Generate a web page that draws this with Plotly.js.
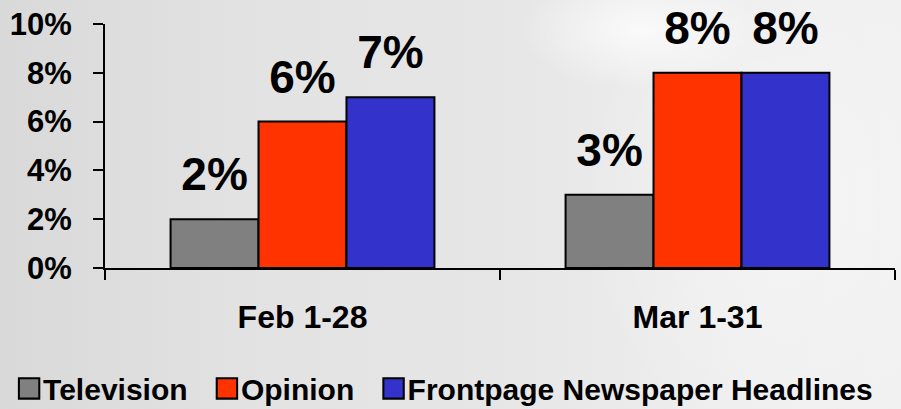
<!DOCTYPE html>
<html>
<head>
<meta charset="utf-8">
<script src="https://cdn.plot.ly/plotly-3.0.1.min.js"></script>
<style>
html,body{margin:0;padding:0;}
body{width:901px;height:409px;overflow:hidden;
background:
 radial-gradient(ellipse 120px 60px at 640px 30px, rgba(255,255,255,0.75), rgba(255,255,255,0) 100%),
 radial-gradient(ellipse 200px 260px at 780px 200px, rgba(255,255,255,0.35), rgba(255,255,255,0) 100%),
 linear-gradient(90deg,#d9d9d9 0%,#e3e3e3 30%,#e6e6e6 55%,#eeeeee 80%,#f1f1f1 100%);}
#chart{width:901px;height:409px;}
</style>
</head>
<body>
<div id="chart"></div>
<script>
const categories = ["Feb 1-28", "Mar 1-31"];
const seriesNames = ["Television", "Opinion", "Frontpage Newspaper Headlines"];
const television = [2, 3];
const opinion = [6, 8];
const frontpage = [7, 8];
const yTickVals = [0, 2, 4, 6, 8, 10];
const yTickText = ["0%", "2%", "4%", "6%", "8%", "10%"];

const colors = ["#808080", "#FF3300", "#3333CC"];
const FONT = "Liberation Sans, Arial, sans-serif";

const values = [television, opinion, frontpage];
const traces = values.map((v, i) => ({
  type: "bar",
  name: seriesNames[i] + (i < seriesNames.length - 1 ? "\u00A0" : ""),
  x: categories,
  y: v,
  marker: {color: colors[i], line: {color: "#000", width: 2}},
  text: v.map(n => n + "%"),
  texttemplate: "%{text}",
  textposition: "outside",
  cliponaxis: false,
  textfont: {family: FONT, size: 46, color: "#000", weight: "bold"},
  hoverinfo: "skip"
}));

const layout = {
  width: 901, height: 409,
  paper_bgcolor: "rgba(0,0,0,0)",
  plot_bgcolor: "rgba(0,0,0,0)",
  margin: {l: 105, r: 6, t: 24, b: 141, autoexpand: false},
  barmode: "group",
  bargap: 0.332,
  bargroupgap: 0,
  font: {family: FONT, color: "#000", size: 30, weight: "bold"},
  xaxis: {
    type: "category",
    showline: true, linecolor: "#000", linewidth: 2,
    ticks: "outside", ticklen: 10, tickwidth: 2, tickcolor: "#000",
    tickson: "boundaries",
    ticklabelstandoff: 20,
    tickfont: {family: FONT, size: 32, color: "#000", weight: "bold"},
    showgrid: false, zeroline: false, fixedrange: true
  },
  yaxis: {
    range: [0, 10],
    tickvals: yTickVals, ticktext: yTickText,
    showline: true, linecolor: "#000", linewidth: 2,
    ticks: "outside", ticklen: 10, tickwidth: 2, tickcolor: "#000",
    ticklabelstandoff: 15,
    tickfont: {family: FONT, size: 31, color: "#000", weight: "bold"},
    showgrid: false, zeroline: false, fixedrange: true
  },
  showlegend: true,
  legend: {
    orientation: "h",
    xref: "paper", yref: "paper",
    x: -0.129, xanchor: "left",
    y: -0.387, yanchor: "top",
    font: {family: FONT, size: 30, color: "#000", weight: "bold"},
    bgcolor: "rgba(0,0,0,0)",
    traceorder: "normal"
  }
};

Plotly.newPlot("chart", traces, layout, {staticPlot: true}).then(gd => {
  // Raise the value labels a little above the bars, and enlarge legend swatches
  document.querySelectorAll(".bartext").forEach(t => {
    const tr = t.getAttribute("transform") || "";
    t.setAttribute("transform", "translate(0,-16) " + tr);
  });
  document.querySelectorAll(".legend .legendpoints path").forEach(p => {
    const tr = p.getAttribute("transform") || "";
    p.setAttribute("transform", "translate(6,0) " + tr + " scale(1.7)");
    p.style.strokeWidth = "1.2px";
  });
});
</script>
</body>
</html>
